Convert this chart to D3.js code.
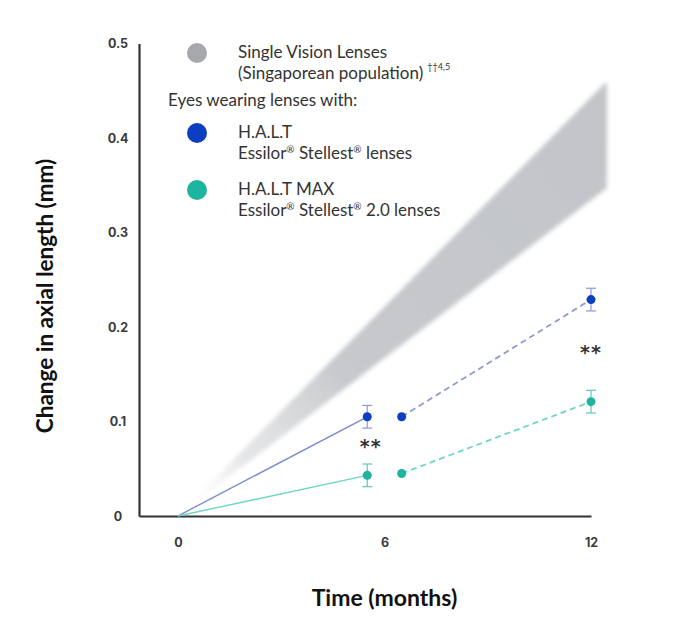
<!DOCTYPE html>
<html><head><meta charset="utf-8">
<script src="https://cdn.jsdelivr.net/npm/d3@7"></script>
<style>
html,body{margin:0;padding:0;background:#fff;}
svg{display:block;}
</style></head>
<body>
<svg id="chart" width="680" height="628"></svg>
<script>
// ---- data ----
const timeTicks = [0, 6, 12];
const valueTicks = [0, 0.1, 0.2, 0.3, 0.4, 0.5];
const valueTickLabels = ["0", "0.1", "0.2", "0.3", "0.4", "0.5"];
// phase 1 (solid, 0 -> 6 months, marker drawn slightly left of 6)
const phase1Months = [0, 5.5];
// phase 2 (dashed, 6 -> 12 months, start marker drawn slightly right of 6)
const phase2Months = [6.5, 12];
const haltPhase1 = [0, 0.105];
const haltPhase2 = [0.105, 0.229];
const haltErr1 = [0, 0.012];
const haltErr2 = [0, 0.012];
const maxPhase1 = [0, 0.043];
const maxPhase2 = [0.045, 0.121];
const maxErr1 = [0, 0.012];
const maxErr2 = [0, 0.012];
// single vision band
const bandMonths = [0, 12.46];
const bandUpper = [0, 0.46];
const bandLower = [0, 0.347];
// significance markers
const sigMonths = [5.6, 12];
const sigValues = [0.0794, 0.179];
const sigLabels = ["**", "**"];
// legend
const legendItems = [
  {color: "#a6a8ab", lines: ["Single Vision Lenses", "(Singaporean population)"], sup: "††4,5"},
  {color: "#0c3ec2", lines: ["H.A.L.T", "Essilor® Stellest® lenses"]},
  {color: "#1fb4a0", lines: ["H.A.L.T MAX", "Essilor® Stellest® 2.0 lenses"]}
];
const legendHeading = "Eyes wearing lenses with:";

// ---- drawing ----
const svg = d3.select("#chart");
const x = d3.scaleLinear().domain([-1.13, 12]).range([139, 591]);
const y = d3.scaleLinear().domain([0, 0.5]).range([516, 43.5]);

const defs = svg.append("defs");
const grad = defs.append("linearGradient").attr("id", "bandGrad")
  .attr("gradientUnits", "userSpaceOnUse")
  .attr("x1", x(0)).attr("y1", y(0))
  .attr("x2", x(12.46)).attr("y2", y(0.40));
grad.append("stop").attr("offset", 0).attr("stop-color", "#ffffff").attr("stop-opacity", 0);
grad.append("stop").attr("offset", 0.15).attr("stop-color", "#dcdddf").attr("stop-opacity", 0.7);
grad.append("stop").attr("offset", 0.38).attr("stop-color", "#c7c9cc");
grad.append("stop").attr("offset", 1).attr("stop-color", "#c3c5c8");
const blur = defs.append("filter").attr("id", "soft").attr("x", "-5%").attr("y", "-5%").attr("width", "110%").attr("height", "110%");
blur.append("feGaussianBlur").attr("stdDeviation", 2.2);

const bandData = bandMonths.map((m, i) => ({m, hi: bandUpper[i], lo: bandLower[i]}));
svg.append("path")
  .datum(bandData)
  .attr("d", d3.area().x(d => x(d.m)).y0(d => y(d.lo)).y1(d => y(d.hi)))
  .attr("fill", "url(#bandGrad)")
  .attr("filter", "url(#soft)");

// axes
const xAxis = svg.append("g").attr("transform", `translate(0,${y(0)})`)
  .call(d3.axisBottom(x).tickValues(timeTicks).tickSize(0).tickPadding(22).tickFormat(d3.format("d")));
const yAxis = svg.append("g").attr("transform", `translate(${x(-1.13)},0)`)
  .call(d3.axisLeft(y).tickValues(valueTicks).tickSize(0).tickPadding(0)
    .tickFormat((d, i) => valueTickLabels[i]));
[xAxis, yAxis].forEach(g => {
  g.select(".domain").attr("stroke", "#333").attr("stroke-width", 2.2);
  g.selectAll("text").attr("font-family", "Inter, 'Open Sans', sans-serif")
    .attr("font-weight", 700).attr("font-size", 12.5).attr("fill", "#3a3a3a");
});
yAxis.selectAll("text").attr("text-anchor", "middle").attr("x", -21).attr("dy", "0.35em");

// series
function drawSeries(months, vals, errs, lineColor, dotColor, errColor, dashed) {
  const pts = months.map((m, i) => ({m, v: vals[i], e: errs[i]}));
  svg.append("path").datum(pts)
    .attr("d", d3.line().x(d => x(d.m)).y(d => y(d.v)))
    .attr("fill", "none").attr("stroke", lineColor)
    .attr("stroke-width", dashed ? 1.8 : 1.4)
    .attr("stroke-dasharray", dashed ? "6,4" : null);
  const eb = pts.filter(d => d.e > 0);
  const g = svg.append("g").attr("stroke", errColor).attr("stroke-width", 1.2);
  eb.forEach(d => {
    g.append("line").attr("x1", x(d.m)).attr("x2", x(d.m)).attr("y1", y(d.v - d.e)).attr("y2", y(d.v + d.e));
    g.append("line").attr("x1", x(d.m) - 5).attr("x2", x(d.m) + 5).attr("y1", y(d.v - d.e)).attr("y2", y(d.v - d.e));
    g.append("line").attr("x1", x(d.m) - 5).attr("x2", x(d.m) + 5).attr("y1", y(d.v + d.e)).attr("y2", y(d.v + d.e));
  });
  svg.append("g").selectAll("circle").data(pts.filter(d => d.m > 0)).join("circle")
    .attr("cx", d => x(d.m)).attr("cy", d => y(d.v)).attr("r", 4.5).attr("fill", dotColor);
}
drawSeries(phase1Months, haltPhase1, haltErr1, "#7d89cf", "#0c3ec2", "#8d9ad6", false);
drawSeries(phase1Months, maxPhase1, maxErr1, "#6fd5c3", "#1fb4a0", "#5fc9b8", false);
drawSeries(phase2Months, haltPhase2, haltErr2, "#8e9bd6", "#0c3ec2", "#8d9ad6", true);
drawSeries(phase2Months, maxPhase2, maxErr2, "#72d4c4", "#1fb4a0", "#5fc9b8", true);

// significance
svg.append("g").selectAll("text").data(sigLabels).join("text")
  .attr("x", (d, i) => x(sigMonths[i])).attr("y", (d, i) => y(sigValues[i]))
  .attr("text-anchor", "middle").attr("dy", "0.62em")
  .attr("font-family", "'DejaVu Sans', sans-serif").attr("font-weight", 700)
  .attr("font-size", 19).attr("fill", "#333").attr("letter-spacing", 1)
  .text(d => d);

// axis titles
svg.append("text").attr("x", x(6)).attr("y", 606).attr("text-anchor", "middle")
  .attr("font-family", "Lato, sans-serif").attr("font-weight", 700).attr("font-size", 23)
  .attr("fill", "#111").text("Time (months)");
svg.append("text").attr("transform", "translate(53,296) rotate(-90)").attr("text-anchor", "middle")
  .attr("font-family", "Lato, sans-serif").attr("font-weight", 700).attr("font-size", 22.5)
  .attr("fill", "#111").text("Change in axial length (mm)");

// legend
const lg = svg.append("g").attr("font-family", "Lato, sans-serif").attr("font-size", 17).attr("fill", "#333");
const rowY = [53, 133, 190];
function addRich(textSel, str) {
  const parts = str.split(/(®)/).filter(p => p);
  parts.forEach((part, k) => {
    if (part === "®") {
      textSel.append("tspan").attr("font-size", 10).attr("dy", -6).text("®");
    } else {
      const ts = textSel.append("tspan").text(part);
      if (k > 0 && parts[k - 1] === "®") ts.attr("dy", 6);
    }
  });
}
legendItems.forEach((it, i) => {
  lg.append("circle").attr("cx", 197).attr("cy", rowY[i]).attr("r", 10).attr("fill", it.color);
  const t1 = lg.append("text").attr("x", 238).attr("y", rowY[i] + 5.2);
  addRich(t1, it.lines[0]);
  const t2 = lg.append("text").attr("x", 238).attr("y", rowY[i] + 5.2 + 20.8);
  addRich(t2, it.lines[1]);
  if (it.sup) {
    t2.append("tspan").attr("dx", 4).attr("dy", -9).attr("font-size", 9).text(it.sup);
  }
});
lg.append("text").attr("x", 168).attr("y", 106.3).text(legendHeading);
</script>
</body></html>
